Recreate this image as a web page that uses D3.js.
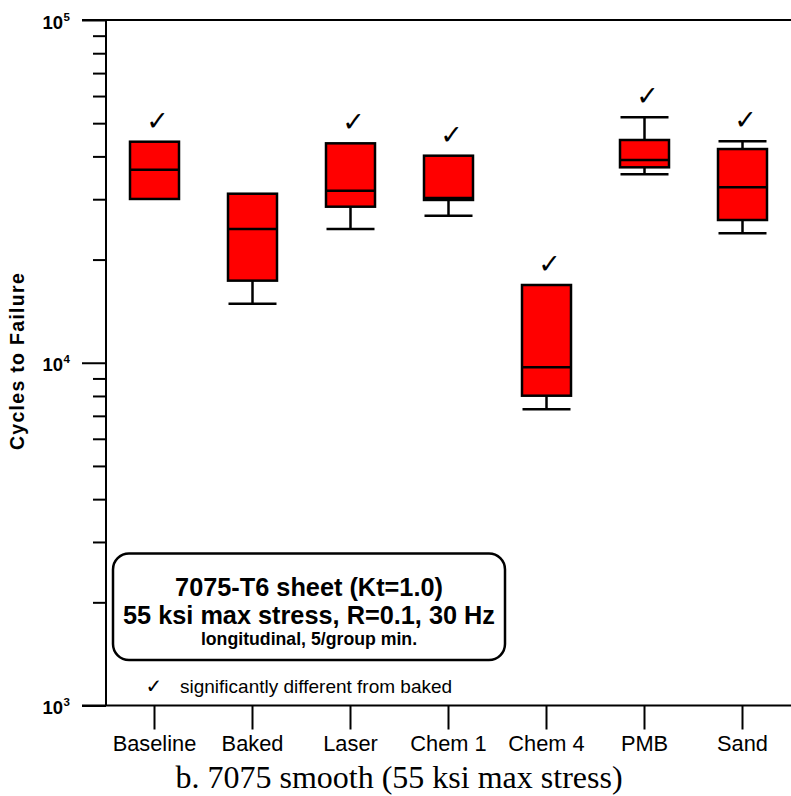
<!DOCTYPE html>
<html>
<head>
<meta charset="utf-8">
<script src="https://cdn.jsdelivr.net/npm/d3@7/dist/d3.min.js"></script>
<style>
  html, body { margin: 0; padding: 0; background: #fff; }
  svg { display: block; }
</style>
</head>
<body>
<svg id="chart" width="791" height="796"></svg>
<script>
// ---- data (cycles to failure) ----
const categories = ["Baseline", "Baked", "Laser", "Chem 1", "Chem 4", "PMB", "Sand"];
const minValues    = [30050, 14870, 24560, 26860, 7315, 35460, 23860];
const q1Values     = [30050, 17360, 28530, 29850, 8014, 37170, 26090];
const medianValues = [36570, 24560, 31770, 30250, 9700, 39040, 32500];
const q3Values     = [44150, 31130, 43670, 40190, 16860, 44660, 42030];
const maxValues    = [44150, 31130, 43670, 40190, 16860, 52020, 44270];
const significant  = [true, false, true, true, true, true, true];
const majorTicks = [1e3, 1e4, 1e5];
const majorExponents = ["3", "4", "5"];
const minorTicks = [2e3,3e3,4e3,5e3,6e3,7e3,8e3,9e3,2e4,3e4,4e4,5e4,6e4,7e4,8e4,9e4];
const yTitle = "Cycles to Failure";
const caption = "b. 7075 smooth (55 ksi max stress)";
const noteLines = ["7075-T6 sheet (Kt=1.0)", "55 ksi max stress, R=0.1, 30 Hz", "longitudinal, 5/group min."];
const legendText = "significantly different from baked";

const data = categories.map((c, i) => ({
  cat: c, min: minValues[i], q1: q1Values[i], med: medianValues[i],
  q3: q3Values[i], max: maxValues[i], sig: significant[i]
}));

const svg = d3.select("#chart");
const sans = "'Liberation Sans', Arial, Helvetica, sans-serif";

const axisX = 106, axisBottom = 705.5, axisTop = 20;
const y = d3.scaleLog().domain([1e3, 1e5]).range([axisBottom, axisTop]);
const x = d3.scaleBand().domain(categories).range([105.5, 791.5]).padding(0);
const boxW = 49, capW = 48;

// ---- y axis: minor ticks ----
const yMinor = d3.axisLeft(y).tickValues(minorTicks).tickSize(13).tickFormat("");
const gMinor = svg.append("g").attr("transform", `translate(${axisX},0)`).call(yMinor);
gMinor.select(".domain").remove();
gMinor.selectAll(".tick line").attr("stroke", "#000").attr("stroke-width", 2);

// ---- y axis: major ticks ----
const yMajor = d3.axisLeft(y).tickValues(majorTicks).tickSize(24).tickFormat("");
const gMajor = svg.append("g").attr("transform", `translate(${axisX},0)`).call(yMajor);
gMajor.select(".domain").remove();
gMajor.selectAll(".tick line").attr("stroke", "#000").attr("stroke-width", 2);

// major labels 10^n
majorTicks.forEach((v, i) => {
  const yy = y(v);
  svg.append("text").attr("x", 63).attr("y", yy + 8.5)
    .attr("text-anchor", "end").attr("font-family", sans).attr("font-weight", "bold")
    .attr("font-size", 18.5).text("10");
  svg.append("text").attr("x", 63.5).attr("y", yy + 0.5)
    .attr("text-anchor", "start").attr("font-family", sans).attr("font-weight", "bold")
    .attr("font-size", 11.5).text(majorExponents[i]);
});

// axis lines
svg.append("line").attr("x1", axisX).attr("x2", axisX).attr("y1", y(1e5)).attr("y2", y(1e3))
  .attr("stroke", "#000").attr("stroke-width", 2);
svg.append("line").attr("x1", 82).attr("x2", 791).attr("y1", y(1e5)).attr("y2", y(1e5))
  .attr("stroke", "#000").attr("stroke-width", 2);
svg.append("line").attr("x1", 82).attr("x2", 791).attr("y1", y(1e3)).attr("y2", y(1e3))
  .attr("stroke", "#000").attr("stroke-width", 2);

// ---- x axis ----
const xAxis = d3.axisBottom(x).tickSize(24).tickPadding(6);
const gx = svg.append("g").attr("transform", `translate(0,${axisBottom})`).call(xAxis);
gx.select(".domain").remove();
gx.selectAll(".tick line").attr("stroke", "#000").attr("stroke-width", 2);
gx.selectAll(".tick text").attr("font-family", sans).attr("font-size", 21.8)
  .attr("fill", "#000");

// y title
svg.append("text")
  .attr("transform", `translate(24,361) rotate(-90)`)
  .attr("text-anchor", "middle").attr("font-family", sans).attr("font-weight", "bold")
  .attr("font-size", 19.5).attr("letter-spacing", 1.3).text(yTitle);

// caption
svg.append("text").attr("x", 399).attr("y", 788).attr("text-anchor", "middle")
  .attr("font-family", "'Liberation Serif', 'Times New Roman', serif")
  .attr("font-size", 32).text(caption);

// ---- boxes ----
const g = svg.append("g");
const groups = g.selectAll("g.box").data(data).join("g").attr("class", "box")
  .attr("transform", d => `translate(${x(d.cat) + x.bandwidth() / 2},0)`);

// whiskers
groups.filter(d => d.max > d.q3).append("line")
  .attr("x1", 0).attr("x2", 0).attr("y1", d => y(d.max)).attr("y2", d => y(d.q3))
  .attr("stroke", "#000").attr("stroke-width", 2.5);
groups.filter(d => d.max > d.q3).append("line")
  .attr("x1", -capW / 2).attr("x2", capW / 2).attr("y1", d => y(d.max)).attr("y2", d => y(d.max))
  .attr("stroke", "#000").attr("stroke-width", 2.5);
groups.filter(d => d.min < d.q1).append("line")
  .attr("x1", 0).attr("x2", 0).attr("y1", d => y(d.q1)).attr("y2", d => y(d.min))
  .attr("stroke", "#000").attr("stroke-width", 2.5);
groups.filter(d => d.min < d.q1).append("line")
  .attr("x1", -capW / 2).attr("x2", capW / 2).attr("y1", d => y(d.min)).attr("y2", d => y(d.min))
  .attr("stroke", "#000").attr("stroke-width", 2.5);

groups.append("rect")
  .attr("x", -boxW / 2).attr("width", boxW)
  .attr("y", d => y(d.q3)).attr("height", d => y(d.q1) - y(d.q3))
  .attr("fill", "#ff0000").attr("stroke", "#000").attr("stroke-width", 2.5);
groups.append("line")
  .attr("x1", -boxW / 2).attr("x2", boxW / 2).attr("y1", d => y(d.med)).attr("y2", d => y(d.med))
  .attr("stroke", "#000").attr("stroke-width", 2.5);

// significance checks
groups.filter(d => d.sig).append("text")
  .attr("x", 3).attr("y", d => y(d.max) - 12)
  .attr("text-anchor", "middle").attr("font-family", "'DejaVu Sans', sans-serif")
  .attr("font-size", 27).text("\u2713");

// ---- note box ----
svg.append("rect").attr("x", 113).attr("y", 553.5).attr("width", 392).attr("height", 106.5)
  .attr("rx", 16).attr("ry", 16).attr("fill", "#fff").attr("stroke", "#000").attr("stroke-width", 2.5);
const noteSizes = [25.3, 25.3, 17.7];
const noteYs = [596, 624, 645];
noteLines.forEach((t, i) => {
  svg.append("text").attr("x", 309).attr("y", noteYs[i]).attr("text-anchor", "middle")
    .attr("font-family", sans).attr("font-weight", "bold").attr("font-size", noteSizes[i]).text(t);
});

// legend
svg.append("text").attr("x", 154).attr("y", 693).attr("text-anchor", "middle")
  .attr("font-family", "'DejaVu Sans', sans-serif").attr("font-size", 20).text("\u2713");
svg.append("text").attr("x", 180).attr("y", 693).attr("font-family", sans)
  .attr("font-size", 19).text(legendText);
</script>
</body>
</html>
